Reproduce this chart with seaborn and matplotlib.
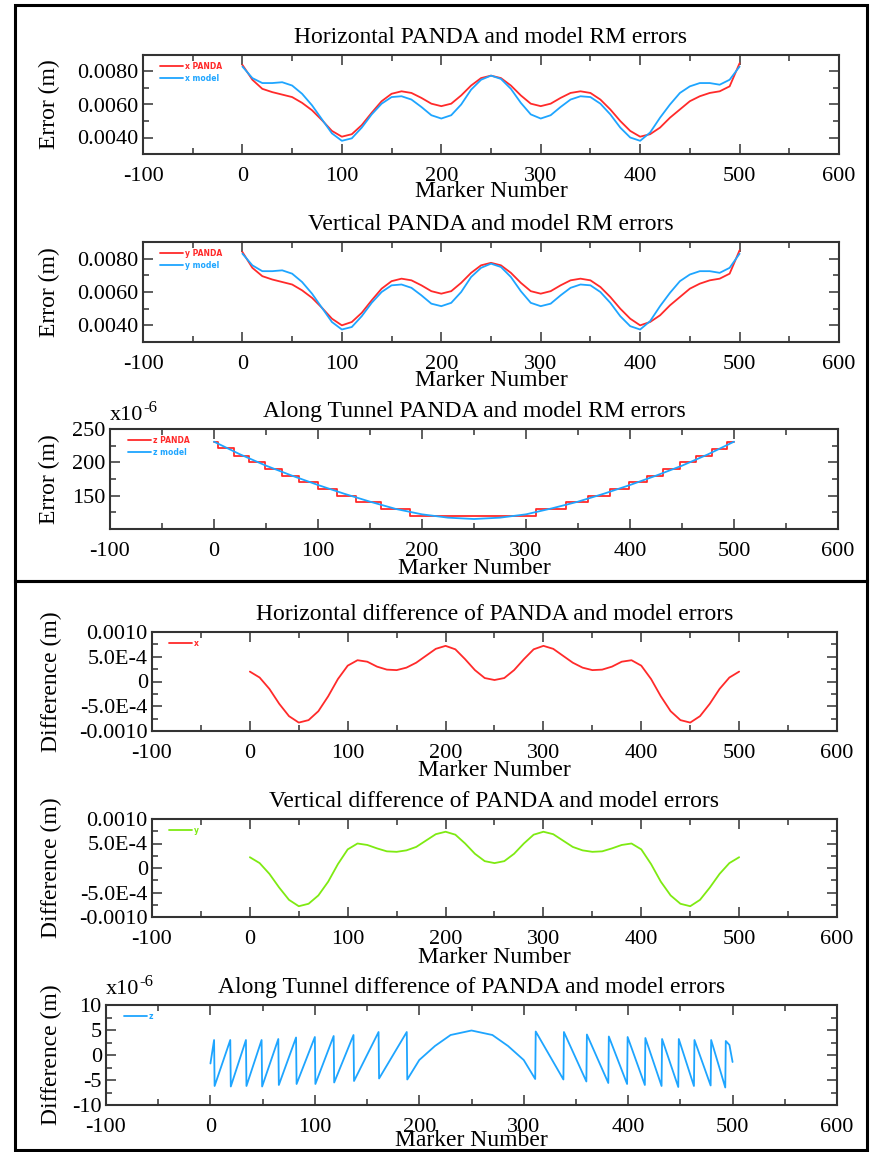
import matplotlib
matplotlib.use("Agg")
import matplotlib.pyplot as plt
import matplotlib.patches as patches
from matplotlib.ticker import MultipleLocator
import seaborn as sns

# ---- data ----
markers = list(range(0, 501, 10))

# horizontal RM errors (m)
x_panda = [0.00840, 0.00750, 0.00695, 0.00675, 0.00660, 0.00645, 0.00610, 0.00565, 0.00505, 0.00440,
           0.00405, 0.00420, 0.00475, 0.00550, 0.00620, 0.00665, 0.00680, 0.00670, 0.00640, 0.00605,
           0.00590, 0.00605, 0.00655, 0.00715, 0.00760, 0.00775, 0.00760, 0.00715, 0.00655, 0.00605,
           0.00590, 0.00605, 0.00640, 0.00670, 0.00680, 0.00670, 0.00630, 0.00570, 0.00500, 0.00440,
           0.00405, 0.00420, 0.00460, 0.00520, 0.00570, 0.00620, 0.00650, 0.00670, 0.00680, 0.00710,
           0.00850]
x_model = [0.00830, 0.00760, 0.00730, 0.00730, 0.00735, 0.00715, 0.00665, 0.00595, 0.00510, 0.00425,
           0.00380, 0.00395, 0.00460, 0.00540, 0.00605, 0.00645, 0.00650, 0.00630, 0.00585, 0.00535,
           0.00515, 0.00535, 0.00600, 0.00690, 0.00750, 0.00775, 0.00755, 0.00695, 0.00610, 0.00540,
           0.00515, 0.00535, 0.00585, 0.00630, 0.00650, 0.00645, 0.00605, 0.00540, 0.00460, 0.00400,
           0.00380, 0.00430, 0.00520, 0.00600, 0.00670, 0.00710, 0.00730, 0.00730, 0.00720, 0.00750,
           0.00830]

# vertical RM errors (m)
y_panda = [0.00840, 0.00745, 0.00695, 0.00675, 0.00660, 0.00645, 0.00610, 0.00565, 0.00505, 0.00440,
           0.00400, 0.00420, 0.00475, 0.00550, 0.00620, 0.00665, 0.00680, 0.00670, 0.00640, 0.00605,
           0.00590, 0.00605, 0.00655, 0.00715, 0.00760, 0.00775, 0.00760, 0.00715, 0.00655, 0.00605,
           0.00590, 0.00605, 0.00640, 0.00670, 0.00680, 0.00670, 0.00630, 0.00570, 0.00500, 0.00440,
           0.00400, 0.00420, 0.00460, 0.00520, 0.00570, 0.00620, 0.00650, 0.00670, 0.00680, 0.00710,
           0.00850]
y_model = [0.00830, 0.00760, 0.00725, 0.00725, 0.00730, 0.00710, 0.00660, 0.00590, 0.00505, 0.00420,
           0.00375, 0.00390, 0.00455, 0.00535, 0.00600, 0.00640, 0.00645, 0.00625, 0.00580, 0.00530,
           0.00515, 0.00535, 0.00600, 0.00690, 0.00745, 0.00770, 0.00750, 0.00690, 0.00605, 0.00535,
           0.00515, 0.00530, 0.00580, 0.00625, 0.00645, 0.00640, 0.00600, 0.00535, 0.00455, 0.00395,
           0.00375, 0.00425, 0.00515, 0.00595, 0.00665, 0.00705, 0.00725, 0.00725, 0.00715, 0.00745,
           0.00830]

# along-tunnel RM errors (x1e-6 m)
z_model_markers = list(range(0, 501, 25))
z_model = [231, 212, 195, 180, 166, 153, 141, 130, 122, 117, 115,
           117, 122, 131, 141, 153, 166, 180, 195, 212, 231]
z_step_markers = [0, 4, 19, 34, 49, 65, 82, 100, 118, 137, 161, 188,
                  310, 338, 360, 381, 399, 416, 432, 448, 463, 479, 493, 500]
z_panda = [231, 221, 210, 200, 190, 180, 170, 160, 150, 140, 130, 120,
           130, 140, 150, 160, 170, 180, 190, 200, 210, 220, 231, 231]

# horizontal / vertical differences (m)
x_diff = [2.0e-4, 0.8e-4, -1.5e-4, -4.5e-4, -7.0e-4, -8.3e-4, -7.8e-4, -6.0e-4, -3.0e-4, 0.5e-4,
          3.2e-4, 4.3e-4, 4.0e-4, 3.0e-4, 2.4e-4, 2.3e-4, 2.8e-4, 3.8e-4, 5.2e-4, 6.6e-4,
          7.2e-4, 6.5e-4, 4.5e-4, 2.3e-4, 0.7e-4, 0.3e-4, 0.7e-4, 2.3e-4, 4.5e-4, 6.5e-4,
          7.2e-4, 6.6e-4, 5.2e-4, 3.8e-4, 2.8e-4, 2.3e-4, 2.4e-4, 3.0e-4, 4.0e-4, 4.3e-4,
          3.2e-4, 0.5e-4, -3.0e-4, -6.0e-4, -7.8e-4, -8.3e-4, -7.0e-4, -4.5e-4, -1.5e-4, 0.8e-4,
          2.0e-4]
y_diff = [2.2e-4, 1.0e-4, -1.2e-4, -4.0e-4, -6.5e-4, -7.8e-4, -7.3e-4, -5.6e-4, -2.8e-4, 0.8e-4,
          3.8e-4, 5.0e-4, 4.7e-4, 4.0e-4, 3.4e-4, 3.3e-4, 3.6e-4, 4.3e-4, 5.6e-4, 6.9e-4,
          7.4e-4, 6.8e-4, 5.0e-4, 2.9e-4, 1.4e-4, 1.0e-4, 1.4e-4, 2.9e-4, 5.0e-4, 6.8e-4,
          7.4e-4, 6.9e-4, 5.6e-4, 4.3e-4, 3.6e-4, 3.3e-4, 3.4e-4, 4.0e-4, 4.7e-4, 5.0e-4,
          3.8e-4, 0.8e-4, -2.8e-4, -5.6e-4, -7.3e-4, -7.8e-4, -6.5e-4, -4.0e-4, -1.2e-4, 1.0e-4,
          2.2e-4]

# along-tunnel difference (x1e-6 m)
z_diff_markers = [0, 3.5, 4, 19, 19.5, 34, 34.5, 49, 49.5, 65, 65.5, 82, 82.5, 100, 100.5,
                  118, 118.5, 137, 137.5, 161, 161.5, 188, 188.5, 200, 215, 230, 250, 270, 285,
                  300, 311, 311.5, 338, 338.5, 360, 360.5, 381, 381.5, 399, 399.5, 416, 416.5,
                  432, 432.5, 448, 448.5, 463, 463.5, 479, 479.5, 493, 493.5, 497, 500]
z_diff = [-1.7, 3.0, -6.2, 3.0, -6.3, 3.0, -6.2, 3.0, -6.3, 3.2, -6.0, 3.5, -5.8, 3.6, -5.8,
          3.8, -5.5, 4.0, -5.2, 4.6, -4.7, 4.6, -4.9, -1.0, 1.8, 4.0, 4.9, 4.0, 1.8,
          -1.0, -4.8, 4.7, -4.9, 4.6, -5.3, 4.1, -5.6, 3.7, -5.8, 3.6, -6.0, 3.4,
          -6.2, 3.2, -6.4, 3.2, -6.2, 3.0, -6.1, 3.0, -6.5, 2.8, 2.0, -1.4]

RED = "#ff2a2a"
BLUE = "#1ea5ff"
GREEN = "#7eea12"

# ---- style ----
sns.set_theme(style="ticks")
plt.rcParams["font.family"] = ["Liberation Serif", "DejaVu Serif"]
plt.rcParams["axes.unicode_minus"] = False
plt.rcParams["text.color"] = "black"
plt.rcParams["axes.labelcolor"] = "black"
plt.rcParams["xtick.color"] = "#333333"
plt.rcParams["ytick.color"] = "#333333"
plt.rcParams["xtick.labelcolor"] = "black"
plt.rcParams["ytick.labelcolor"] = "black"

W, H = 873, 1152
fig = plt.figure(figsize=(W / 100, H / 100), dpi=100)
fig.patch.set_facecolor("white")


def px_axes(l, t, r, b):
    return fig.add_axes([l / W, 1 - b / H, (r - l) / W, (b - t) / H])


def style(ax, title, ylabel, ylab_x, xlab_y):
    ax.set_xlim(-100, 600)
    ax.xaxis.set_major_locator(MultipleLocator(100))
    ax.xaxis.set_minor_locator(MultipleLocator(50))
    ax.tick_params(which="both", direction="in", top=True, right=True,
                   labelsize=16, width=1.1)
    ax.tick_params(which="major", length=7)
    ax.tick_params(which="minor", length=4.5)
    ax.tick_params(axis="x", pad=9.5)
    ax.tick_params(axis="y", pad=3)
    for s in ax.spines.values():
        s.set_linewidth(1.5)
        s.set_color("#333333")
    ax.set_title(title, fontsize=17, pad=8.5)
    ax.set_xlabel("Marker Number", fontsize=17)
    ax.xaxis.set_label_coords(0.5, xlab_y)
    ax.set_ylabel(ylabel, fontsize=17)
    ax.yaxis.set_label_coords(ylab_x, 0.5)


def small_legend(ax):
    ax.legend(loc="upper left", bbox_to_anchor=(0.02, 0.96), frameon=False,
              labelcolor="linecolor", handlelength=3.0, handletextpad=0.3,
              labelspacing=0.35, borderaxespad=0,
              prop={"family": "DejaVu Sans", "weight": "bold", "size": 5.5})


def scale_note(ax, y):
    # "x10" with a raised "-6", kept as plain text (hyphen, not a math minus)
    base = ax.text(0.0, y, "x10", transform=ax.transAxes, fontsize=16,
                   ha="left", va="bottom")
    ax.annotate("-6", xy=(1.0, 0.45), xycoords=base, fontsize=12,
                ha="left", va="bottom")


def err_ticks(ax):
    ax.set_ylim(0.003, 0.009)
    ax.set_yticks([0.004, 0.006, 0.008], labels=["0.0040", "0.0060", "0.0080"])
    ax.yaxis.set_minor_locator(MultipleLocator(0.001))


def diff_ticks(ax):
    ax.set_ylim(-0.001, 0.001)
    ax.set_yticks([-0.001, -0.0005, 0, 0.0005, 0.001],
                  labels=["-0.0010", "-5.0E-4", "0", "5.0E-4", "0.0010"])
    ax.yaxis.set_minor_locator(MultipleLocator(0.00025))


lw = 1.3

# Panel 1: horizontal errors
ax1 = px_axes(143, 55, 839, 154)
sns.lineplot(x=markers, y=x_panda, ax=ax1, color=RED, lw=lw, label="x PANDA", estimator=None, sort=False)
sns.lineplot(x=markers, y=x_model, ax=ax1, color=BLUE, lw=lw, label="x model", estimator=None, sort=False)
err_ticks(ax1)
style(ax1, "Horizontal PANDA and model RM errors", "Error (m)", -0.119, -0.27)
small_legend(ax1)

# Panel 2: vertical errors
ax2 = px_axes(143, 242, 839, 342)
sns.lineplot(x=markers, y=y_panda, ax=ax2, color=RED, lw=lw, label="y PANDA", estimator=None, sort=False)
sns.lineplot(x=markers, y=y_model, ax=ax2, color=BLUE, lw=lw, label="y model", estimator=None, sort=False)
err_ticks(ax2)
style(ax2, "Vertical PANDA and model RM errors", "Error (m)", -0.119, -0.285)
small_legend(ax2)

# Panel 3: along tunnel errors
ax3 = px_axes(110, 429, 838, 529)
sns.lineplot(x=z_step_markers, y=z_panda, ax=ax3, color=RED, lw=lw, label="z PANDA",
             estimator=None, sort=False, drawstyle="steps-post")
sns.lineplot(x=z_model_markers, y=z_model, ax=ax3, color=BLUE, lw=lw, label="z model", estimator=None, sort=False)
ax3.set_ylim(100, 250)
ax3.set_yticks([150, 200, 250])
ax3.yaxis.set_minor_locator(MultipleLocator(25))
style(ax3, "Along Tunnel PANDA and model RM errors", "Error (m)", -0.069, -0.285)
scale_note(ax3, 1.04)
small_legend(ax3)

# Panel 4: horizontal difference
ax4 = px_axes(152, 632, 837, 731)
sns.lineplot(x=markers, y=x_diff, ax=ax4, color=RED, lw=lw, label="x", estimator=None, sort=False)
diff_ticks(ax4)
style(ax4, "Horizontal difference of PANDA and model errors", "Difference (m)", -0.131, -0.295)
small_legend(ax4)

# Panel 5: vertical difference
ax5 = px_axes(152, 819, 837, 917)
sns.lineplot(x=markers, y=y_diff, ax=ax5, color=GREEN, lw=lw, label="y", estimator=None, sort=False)
diff_ticks(ax5)
style(ax5, "Vertical difference of PANDA and model errors", "Difference (m)", -0.131, -0.31)
small_legend(ax5)

# Panel 6: along tunnel difference
ax6 = px_axes(106, 1005, 837, 1105)
sns.lineplot(x=z_diff_markers, y=z_diff, ax=ax6, color=BLUE, lw=lw, label="z", estimator=None, sort=False)
ax6.set_ylim(-10, 10)
ax6.set_yticks([-10, -5, 0, 5, 10])
ax6.yaxis.set_minor_locator(MultipleLocator(2.5))
style(ax6, "Along Tunnel difference of PANDA and model errors", "Difference (m)", -0.06, -0.255)
scale_note(ax6, 1.06)
small_legend(ax6)

# frames around the two groups
for top, bottom in [(5, 581), (581, 1150)]:
    fig.add_artist(patches.Rectangle((15 / W, 1 - bottom / H), (867 - 15) / W, (bottom - top) / H,
                                     transform=fig.transFigure, fill=False, lw=2.2, ec="black"))

fig.savefig("out.png", dpi=100)
